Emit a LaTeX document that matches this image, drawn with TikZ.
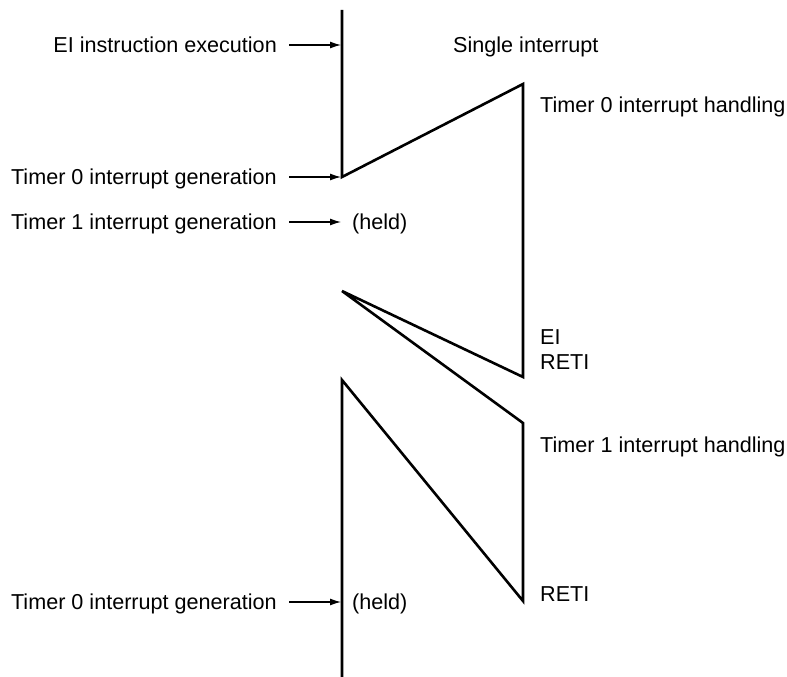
\documentclass[tikz,border=0pt]{standalone}
\usepackage{fontspec}
\setmainfont{Liberation Sans}
\usetikzlibrary{arrows.meta}
\begin{document}
\begin{tikzpicture}[x=1pt,y=-1pt,
  lbl/.style={inner sep=0pt,font=\fontsize{21.6}{26}\selectfont},
  heavy/.style={line width=2.6pt,line join=miter},
  arr/.style={line width=1.2pt,-{Latex[length=11pt,width=7pt]}}]
\useasboundingbox (0,0) rectangle (787,677);
% polyline vertices
\coordinate (t0) at (342,10);
\coordinate (a) at (342,177);
\coordinate (b) at (523,84);
\coordinate (c) at (523,377);
\coordinate (d) at (342,291);
\coordinate (e) at (523,423);
\coordinate (f) at (523,601);
\coordinate (g) at (342,380);
\coordinate (h) at (342,677);
\draw[heavy] (t0) -- (a) -- (b) -- (c) -- (d) -- (e) -- (f) -- (g) -- (h);
% arrow targets
\coordinate (e1) at (341,45);
\coordinate (e2) at (341,177);
\coordinate (e3) at (341,222);
\coordinate (e4) at (341,602);
% left labels
\node[lbl,anchor=base east] (l1) at (277,52.5) {EI instruction execution};
\node[lbl,anchor=base east] (l2) at (277,184.5) {Timer 0 interrupt generation};
\node[lbl,anchor=base east] (l3) at (277,229.5) {Timer 1 interrupt generation};
\node[lbl,anchor=base east] (l4) at (277,609.5) {Timer 0 interrupt generation};
\draw[arr] ([xshift=12pt]l1.base east |- e1) -- (e1);
\draw[arr] ([xshift=12pt]l2.base east |- e2) -- (e2);
\draw[arr] ([xshift=12pt]l3.base east |- e3) -- (e3);
\draw[arr] ([xshift=12pt]l4.base east |- e4) -- (e4);
% held labels
\node[lbl,anchor=base west] (h1) at (352,229.5) {(held)};
\node[lbl,anchor=base west] (h2) at (352,609.5) {(held)};
% right labels
\node[lbl,anchor=base west] (s) at (453,52.5) {Single interrupt};
\node[lbl,anchor=base west] (r1) at (540,112.5) {Timer 0 interrupt handling};
\node[lbl,anchor=base west] (r2) at (540,344.5) {EI};
\node[lbl,anchor=base west] (r3) at (540,369.5) {RETI};
\node[lbl,anchor=base west] (r4) at (540,452.5) {Timer 1 interrupt handling};
\node[lbl,anchor=base west] (r5) at (540,601.5) {RETI};
\end{tikzpicture}
\end{document}
